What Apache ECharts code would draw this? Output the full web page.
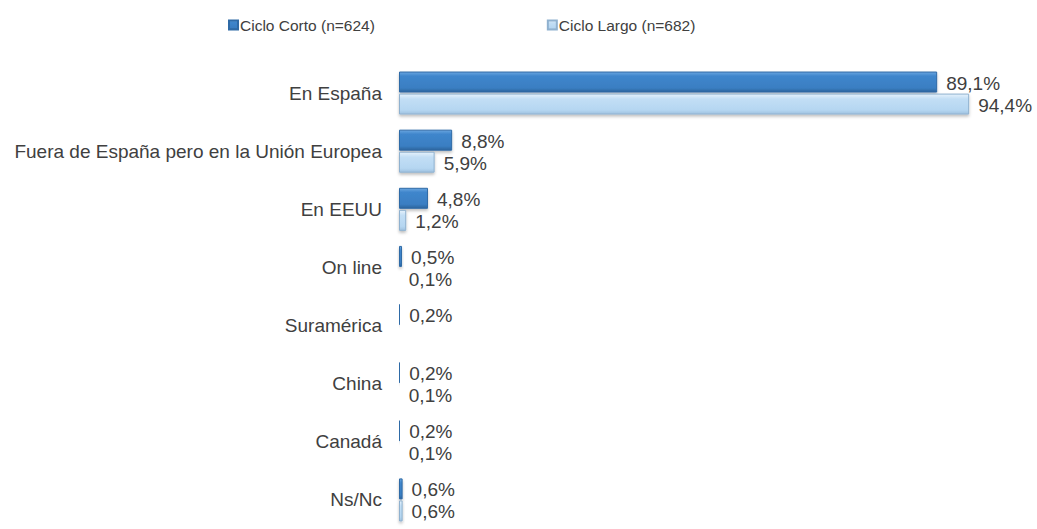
<!DOCTYPE html>
<html>
<head>
<meta charset="utf-8">
<script src="https://cdn.jsdelivr.net/npm/echarts@6/dist/echarts.min.js"></script>
<style>
  html, body { margin: 0; padding: 0; background: #fff; }
  #chart { width: 1037px; height: 529px; }
</style>
</head>
<body>
<div id="chart"></div>
<script>
// valores (%)
const categories = ['En España', 'Fuera de España pero en la Unión Europea', 'En EEUU', 'On line', 'Suramérica', 'China', 'Canadá', 'Ns/Nc'];
const seriesNames = ['Ciclo Corto (n=624)', 'Ciclo Largo (n=682)'];
const cortoValues = [89.1, 8.8, 4.8, 0.5, 0.2, 0.2, 0.2, 0.6];
const largoValues = [94.4, 5.9, 1.2, 0.1, '-', 0.1, 0.1, 0.6];

const font = '"Liberation Sans", Arial, sans-serif';
const textColor = '#404040';

const fmt = p => String(p.value.toFixed(1)).replace('.', ',') + '%';
const labelStyle = { show: true, position: 'right', distance: 9, offset: [0, 1], color: textColor, fontFamily: font, fontSize: 19, formatter: fmt };

const chart = echarts.init(document.getElementById('chart'), null, { renderer: 'svg' });
chart.setOption({
  backgroundColor: '#ffffff',
  animation: false,
  legend: {
    left: 223, top: 12,
    itemWidth: 9, itemHeight: 9, itemGap: 172,
    icon: 'rect',
    textStyle: { color: textColor, fontFamily: font, fontSize: 15.5, padding: [0, 0, 0, -3] },
    data: seriesNames,
  },
  grid: { left: 399, right: 34, top: 64, height: 472, containLabel: false },
  xAxis: {
    type: 'value', min: 0, max: 100, show: false,
  },
  yAxis: {
    type: 'category', data: categories, inverse: true,
    axisLine: { show: false }, axisTick: { show: false },
    axisLabel: { color: textColor, fontFamily: font, fontSize: 19, margin: 17 },
  },
  series: [
    {
      name: seriesNames[0], type: 'bar', data: cortoValues,
      barWidth: 21, barGap: '5%',
      itemStyle: {
        color: {
          type: 'linear', x: 0, y: 0, x2: 0, y2: 1,
          colorStops: [
            { offset: 0, color: '#6aa6e0' },
            { offset: 0.2, color: '#3f86cc' },
            { offset: 0.8, color: '#3a7ec2' },
            { offset: 1, color: '#2b639c' },
          ],
        },
        borderColor: '#2f6aa6', borderWidth: 1,
        shadowColor: 'rgba(0,0,0,0.25)', shadowBlur: 3, shadowOffsetY: 2,
      },
      label: labelStyle,
    },
    {
      name: seriesNames[1], type: 'bar', data: largoValues,
      barWidth: 21,
      itemStyle: {
        color: {
          type: 'linear', x: 0, y: 0, x2: 0, y2: 1,
          colorStops: [
            { offset: 0, color: '#e6f2fc' },
            { offset: 0.25, color: '#c2def5' },
            { offset: 0.8, color: '#b5d6f1' },
            { offset: 1, color: '#9fc2e0' },
          ],
        },
        borderColor: '#8fb1cf', borderWidth: 1,
        shadowColor: 'rgba(0,0,0,0.25)', shadowBlur: 3, shadowOffsetY: 2,
      },
      label: labelStyle,
    },
  ],
});
</script>
</body>
</html>
